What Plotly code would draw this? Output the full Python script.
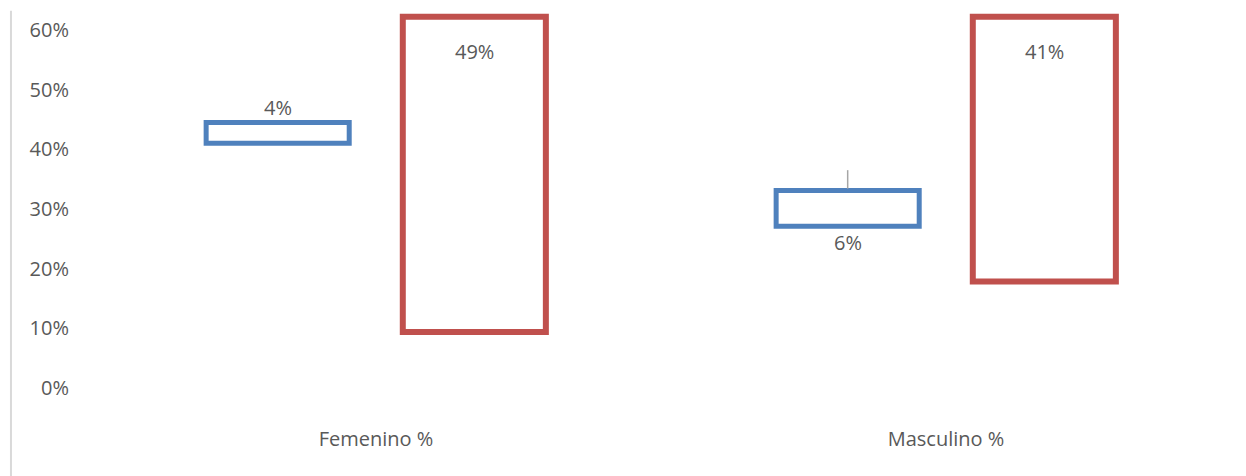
import plotly.graph_objects as go

categories = ["Femenino %", "Masculino %"]
# floating boxes (low / high)
blue_low = [0.410, 0.271]
blue_high = [0.445, 0.331]
blue_labels = ["4%", "6%"]
red_low = [0.094, 0.1785]
red_high = [0.622, 0.622]
red_labels = ["49%", "41%"]
# hi-lo whisker (only visible on Masculino)
whisker_high = [None, 0.365]
y_ticks = [0, 0.1, 0.2, 0.3, 0.4, 0.5, 0.6]
y_ticktext = ["0%", "10%", "20%", "30%", "40%", "50%", "60%"]

BLUE = "#4f81bd"
RED = "#c0504d"
TXT = "#595959"
FONT = "'Open Sans', sans-serif"
FS = 20

xpos = list(range(len(categories)))
W = 0.251
D = 0.1725

fig = go.Figure()
fig.add_trace(go.Bar(
    x=xpos, base=blue_low, y=[h - l for h, l in zip(blue_high, blue_low)],
    width=W, offset=-D - W / 2,
    marker=dict(color="rgba(255,255,255,0)", line=dict(color=BLUE, width=5)),
    hoverinfo="skip", showlegend=False))
fig.add_trace(go.Bar(
    x=xpos, base=red_low, y=[h - l for h, l in zip(red_high, red_low)],
    width=W, offset=D - W / 2,
    marker=dict(color="rgba(255,255,255,0)", line=dict(color=RED, width=6)),
    hoverinfo="skip", showlegend=False))

# whisker
for i, wh in enumerate(whisker_high):
    if wh is not None:
        fig.add_trace(go.Scatter(
            x=[xpos[i] - D, xpos[i] - D], y=[blue_high[i] + 0.003, wh],
            mode="lines", line=dict(color="#a6a6a6", width=1.5),
            hoverinfo="skip", showlegend=False))

# data labels
for i in xpos:
    above = i == 0
    fig.add_annotation(
        x=xpos[i] - D, y=blue_high[i] if above else blue_low[i],
        text=blue_labels[i], showarrow=False, yanchor="middle",
        yshift=15 if above else -16,
        font=dict(family=FONT, size=FS, color=TXT))
    fig.add_annotation(
        x=xpos[i] + D, y=red_high[i], text=red_labels[i], showarrow=False,
        yanchor="middle", yshift=-35,
        font=dict(family=FONT, size=FS, color=TXT))

# chart border line on the left
fig.add_shape(type="line", xref="paper", yref="paper",
              x0=-0.0702, x1=-0.0702, y0=-0.24, y1=1.003,
              line=dict(color="#d9d9d9", width=2))

fig.update_layout(
    width=1246, height=476,
    margin=dict(l=91, r=15, t=12, b=88),
    plot_bgcolor="white", paper_bgcolor="white",
    barmode="overlay",
    font=dict(family=FONT, size=FS, color=TXT),
    xaxis=dict(range=[-0.5, 1.5], tickvals=xpos, ticktext=categories,
               showgrid=False, zeroline=False, showline=False,
               ticks="", ticklabelstandoff=37,
               tickfont=dict(family=FONT, size=FS, color=TXT)),
    yaxis=dict(range=[0, 0.63], tickvals=y_ticks, ticktext=y_ticktext,
               showgrid=False, zeroline=False, showline=False,
               ticks="", ticklabelstandoff=21,
               tickfont=dict(family=FONT, size=FS, color=TXT)),
)

fig.write_html("out.html")
